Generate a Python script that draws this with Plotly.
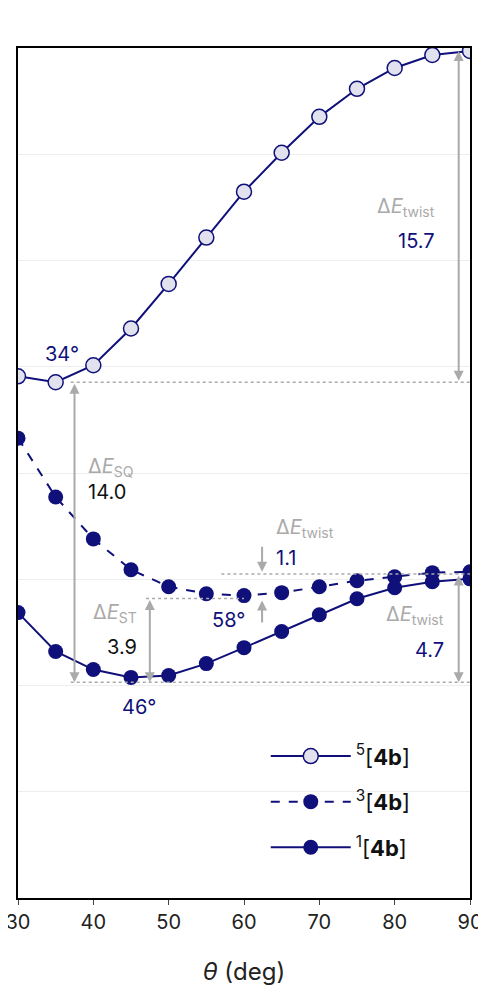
import plotly.graph_objects as go

theta = [30, 35, 40, 45, 50, 55, 60, 65, 70, 75, 80, 85, 90]
quintet = [14.55, 14.27, 15.07, 16.8, 18.9, 21.08, 23.24, 25.07, 26.76, 28.08, 29.06, 29.67, 29.86]
triplet = [11.64, 8.87, 6.9, 5.45, 4.65, 4.32, 4.23, 4.37, 4.65, 4.93, 5.12, 5.31, 5.35]
singlet = [3.43, 1.6, 0.75, 0.38, 0.47, 1.03, 1.78, 2.54, 3.33, 4.08, 4.6, 4.88, 5.02]

NAVY = "#10107a"
GRAY = "#aaaaaa"
F = "Inter, Roboto, sans-serif"

fig = go.Figure()
fig.add_trace(go.Scatter(x=theta, y=quintet, mode="lines+markers", name="<sup>5</sup>[<b>4b</b>]", legendgroup="a",
    line=dict(color=NAVY, width=2), marker=dict(size=15, color="#e2e2ee", line=dict(color=NAVY, width=1.5))))
fig.add_trace(go.Scatter(x=theta, y=triplet, mode="lines+markers", name="<sup>3</sup>[<b>4b</b>]", legendgroup="b",
    line=dict(color=NAVY, width=2, dash="dash"), marker=dict(size=15, color=NAVY)))
fig.add_trace(go.Scatter(x=theta, y=singlet, mode="lines+markers", name="<sup>1</sup>[<b>4b</b>]", legendgroup="c",
    line=dict(color=NAVY, width=2), marker=dict(size=15, color=NAVY)))

lines = [(37, 90, 14.27), (37, 90, 0.15), (47, 60, 4.1), (57, 90, 5.25)]
for x0, x1, y in lines:
    fig.add_shape(type="line", x0=x0, x1=x1, y0=y, y1=y, line=dict(color=GRAY, width=1.5, dash="dot"))

ann = []
def arrow(x, y0, y1, both=True):
    ann.append(dict(x=x, y=y1, ax=x, ay=y0, axref="x", ayref="y", xref="x", yref="y", text="",
        showarrow=True, arrowhead=2, arrowside="end+start" if both else "end", arrowsize=1,
        arrowwidth=2, arrowcolor=GRAY))
arrow(88.5, 14.27, 29.86)
arrow(37.5, 14.27, 0.15)
arrow(47.5, 4.1, 0.15)
arrow(88.5, 5.25, 0.15)
arrow(62.4, 6.6, 5.35, False)
arrow(62.4, 2.9, 4.0, False)

def txt(x, y, t, c, xa="center"):
    ann.append(dict(x=x, y=y, text=t, showarrow=False, xanchor=xa, font=dict(size=20, color=c, family=F)))
txt(85.6, 22.5, "Δ<i>E</i><sub>twist</sub>", GRAY, "right")
txt(85.6, 20.9, "15.7", NAVY, "right")
txt(35.8, 15.6, "34°", NAVY)
txt(39, 10.3, "Δ<i>E</i><sub>SQ</sub>", GRAY, "left")
txt(39, 9.1, "14.0", "#111", "left")
txt(64.0, 7.4, "Δ<i>E</i><sub>twist</sub>", GRAY, "left")
txt(64.0, 6.0, "1.1", NAVY, "left")
txt(58, 3.1, "58°", NAVY)
txt(46, 3.4, "Δ<i>E</i><sub>ST</sub>", GRAY, "right")
txt(46, 1.8, "3.9", "#111", "right")
txt(46, -1.0, "46°", NAVY)
txt(86.8, 3.3, "Δ<i>E</i><sub>twist</sub>", GRAY, "right")
txt(86.8, 1.65, "4.7", NAVY, "right")

fig.update_layout(
    width=478, height=978, margin=dict(l=10, r=16, t=40, b=88, autoexpand=False),
    plot_bgcolor="white", paper_bgcolor="white", annotations=ann,
    font=dict(family=F, size=20, color="#222"),
    legend=dict(x=0.88, y=0.035, xanchor="right", yanchor="bottom", bgcolor="rgba(0,0,0,0)",
        font=dict(size=22, color="#111"), itemwidth=80, tracegroupgap=14),
    xaxis=dict(range=[30, 90], tickvals=[30, 40, 50, 60, 70, 80, 90], showgrid=False, showline=True,
        linecolor="black", linewidth=1.5, mirror=True, ticks="outside", ticklen=5, automargin=False,
        ticklabeloverflow="allow", title=dict(text="<i>θ</i> (deg)", standoff=38)),
    yaxis=dict(range=[-10, 30], dtick=5, showticklabels=False, showgrid=True, gridcolor="#eeeeee",
        showline=True, linecolor="black", linewidth=1.5, mirror=True, zeroline=False, automargin=False),
)
fig.write_html("out.html")
